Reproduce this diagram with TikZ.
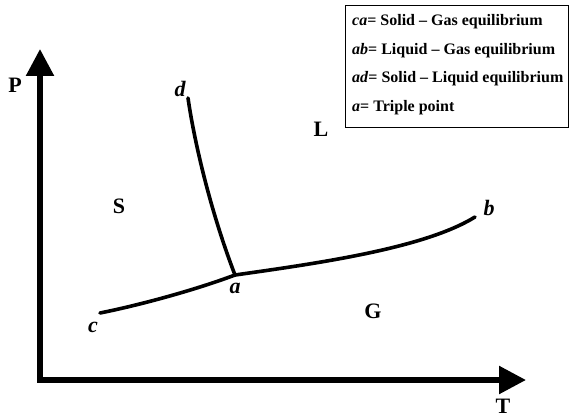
\documentclass[tikz,border=0pt]{standalone}
\usepackage{fontspec}
\setmainfont{Liberation Serif}
\usetikzlibrary{arrows.meta}
\tikzset{
  axis/.style={line width=5.5pt, line join=miter},
  curve/.style={line width=3.6pt, line cap=round},
  region/.style={font=\fontsize{22}{22}\selectfont\bfseries, inner sep=0pt, anchor=base},
  pointlab/.style={font=\fontsize{22}{22}\selectfont\bfseries\itshape, inner sep=0pt, anchor=base},
  legtext/.style={font=\fontsize{16}{16}\selectfont\bfseries, inner sep=0pt, anchor=base west},
  legbox/.style={draw, line width=1.4pt}
}
\begin{document}
\begin{tikzpicture}[x=1pt,y=-1pt]
\useasboundingbox (0,0) rectangle (572,417);
% axes
\coordinate (O) at (40,380);
\coordinate (Ptip) at (40,49);
\coordinate (Ttip) at (526,380);
\draw[axis, {Triangle[length=27pt,width=27pt]}-{Triangle[length=27pt,width=27pt]}] (Ptip) -- (O) -- (Ttip);
\node[region] (P) at (15,93) {P};
\node[region] (T) at (503,413) {T};
% curve points
\coordinate (A) at (235,275);
\coordinate (D) at (188,98);
\coordinate (B) at (475,217);
\coordinate (C) at (100,313);
\draw[curve] (D) .. controls (194,140) and (210,210) .. (A);
\draw[curve] (C) .. controls (140,305) and (195,290) .. (A);
\draw[curve] (A) .. controls (320,263) and (425,248) .. (B);
% labels
\node[pointlab] (la) at (235,293) {a};
\node[pointlab] (ld) at (180,97) {d};
\node[pointlab] (lb) at (489,215) {b};
\node[pointlab] (lc) at (93,332) {c};
\node[region] (L) at (321,136) {L};
\node[region] (S) at (119,213) {S};
\node[region] (G) at (373,318) {G};
% legend
\node[legbox, minimum width=223pt, minimum height=122pt, anchor=north west, inner sep=0pt] (leg) at (345,5) {};
\node[legtext] (l1) at (352,26) {\textit{ca}= Solid -- Gas equilibrium};
\node[legtext] (l2) at (352,54.5) {\textit{ab}= Liquid -- Gas equilibrium};
\node[legtext] (l3) at (352,83) {\textit{ad}= Solid -- Liquid equilibrium};
\node[legtext] (l4) at (352,111.5) {\textit{a}= Triple point};
\end{tikzpicture}
\end{document}
